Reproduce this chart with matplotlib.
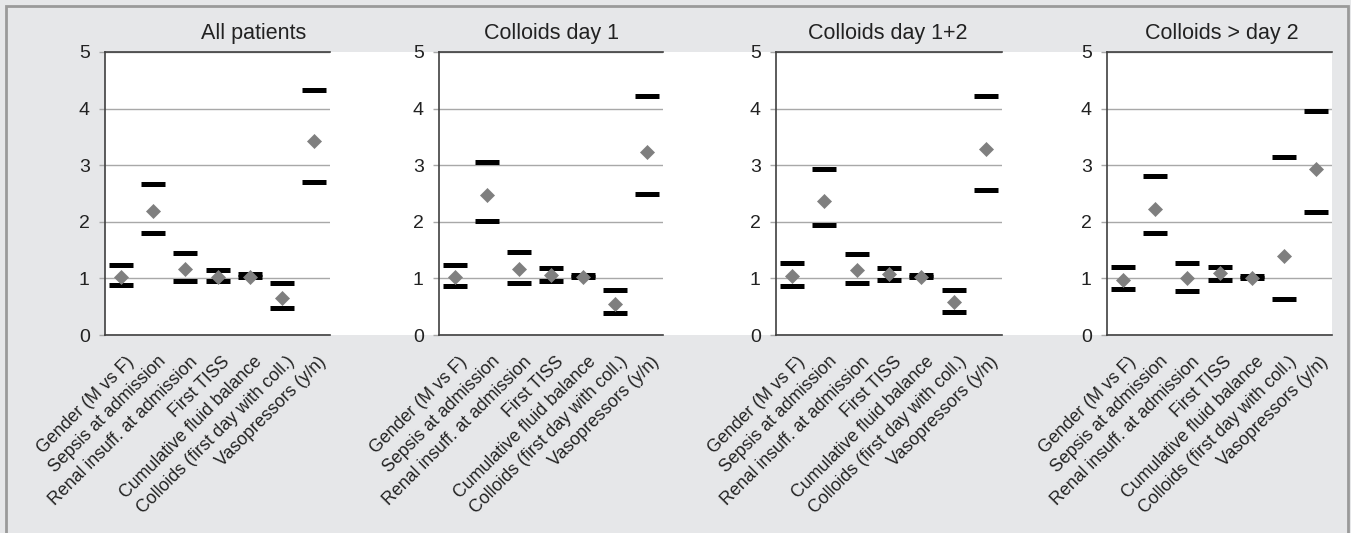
import matplotlib.pyplot as plt
from matplotlib.patches import Rectangle
from matplotlib.transforms import ScaledTranslation

plt.rcParams['font.family'] = ['Liberation Sans', 'DejaVu Sans']

# Categories (x axis labels)
categories = ["Gender (M vs F)", "Sepsis at admission", "Renal insuff. at admission",
              "First TISS", "Cumulative fluid balance", "Colloids (first day with coll.)",
              "Vasopressors (y/n)"]

# Panel titles
titles = ["All patients", "Colloids day 1", "Colloids day 1+2", "Colloids > day 2"]

# Odds ratios (diamonds) and 95% CI bounds (black bars) per panel
or_all = [1.03, 2.19, 1.16, 1.03, 1.02, 0.65, 3.42]
upper_all = [1.24, 2.67, 1.45, 1.14, 1.07, 0.91, 4.33]
lower_all = [0.88, 1.81, 0.95, 0.95, 1.03, 0.48, 2.71]

or_d1 = [1.03, 2.47, 1.16, 1.06, 1.03, 0.55, 3.23]
upper_d1 = [1.24, 3.05, 1.47, 1.19, 1.06, 0.80, 4.22]
lower_d1 = [0.87, 2.01, 0.91, 0.96, 1.02, 0.39, 2.50]

or_d12 = [1.04, 2.37, 1.15, 1.08, 1.03, 0.58, 3.29]
upper_d12 = [1.27, 2.93, 1.43, 1.19, 1.06, 0.80, 4.22]
lower_d12 = [0.87, 1.94, 0.92, 0.98, 1.02, 0.41, 2.57]

or_d2 = [0.98, 2.22, 1.00, 1.09, 1.01, 1.40, 2.93]
upper_d2 = [1.21, 2.81, 1.28, 1.21, 1.05, 3.14, 3.95]
lower_d2 = [0.81, 1.80, 0.78, 0.98, 1.01, 0.64, 2.18]

panels = [
    (or_all, upper_all, lower_all),
    (or_d1, upper_d1, lower_d1),
    (or_d12, upper_d12, lower_d12),
    (or_d2, upper_d2, lower_d2),
]

W, H = 1351, 533
BG = "#e6e7e9"
SPINE = "#404040"

fig = plt.figure(figsize=(W / 100, H / 100), dpi=100, facecolor=BG)


def px_box(x0, y0, x1, y1):
    # pixel box (top-left origin) -> figure fraction [left, bottom, width, height]
    return [x0 / W, 1 - y1 / H, (x1 - x0) / W, (y1 - y0) / H]


# outer frame of the figure
fig.patches.append(Rectangle((6 / W, -0.05), (1348 - 6) / W, 1.05 - 6 / H,
                             transform=fig.transFigure, fill=False,
                             edgecolor="#9a9a9a", linewidth=2, zorder=-2))
# white plotting area shared by all panels
l, b, w, h = px_box(105, 52, 1332, 335)
fig.patches.append(Rectangle((l, b), w, h, transform=fig.transFigure,
                             facecolor="white", edgecolor="none", zorder=-1))

ax_x = [(105, 330), (439, 663), (776, 1002), (1107, 1332)]
title_x = [254, 552, 888, 1222]
x = list(range(len(categories)))

for i, (vals, up, lo) in enumerate(panels):
    ax = fig.add_axes(px_box(ax_x[i][0], 52, ax_x[i][1], 335))
    ax.patch.set_alpha(0)

    ax.plot(x, up, linestyle="none", marker="_", ms=17.5, mew=3.6, color="black", zorder=3)
    ax.plot(x, lo, linestyle="none", marker="_", ms=17.5, mew=3.6, color="black", zorder=3)
    ax.plot(x, vals, linestyle="none", marker="D", ms=6.8, mew=0.5,
            color="#7f7f7f", zorder=4)

    ax.set_xlim(-0.5, len(categories) - 0.5)
    ax.set_ylim(0, 5)
    ax.set_yticks(range(0, 6))
    ax.yaxis.grid(True, color="#a8a8a8", linewidth=1.0)
    ax.set_axisbelow(True)

    for side in ["left", "top", "bottom"]:
        ax.spines[side].set_color(SPINE)
        ax.spines[side].set_linewidth(1.2)
    ax.spines["right"].set_visible(False)

    ax.tick_params(axis="y", direction="out", length=4, width=1, color="#a8a8a8",
                   labelsize=14, pad=7, labelcolor="#222222")
    ax.tick_params(axis="x", length=0, pad=13)
    ax.set_xticks(x)
    ax.set_xticklabels(categories, rotation=45, ha="right", va="top",
                       rotation_mode="anchor", fontsize=12.8, color="#222222")
    offset = ScaledTranslation(4 / 100, 0, fig.dpi_scale_trans)
    for lab in ax.get_xticklabels():
        lab.set_transform(lab.get_transform() + offset)

    fig.text(title_x[i] / W, 1 - 33 / H, titles[i], ha="center", va="center",
             fontsize=15.5, color="#222222")

fig.savefig("out.png", dpi=100, facecolor=BG)
